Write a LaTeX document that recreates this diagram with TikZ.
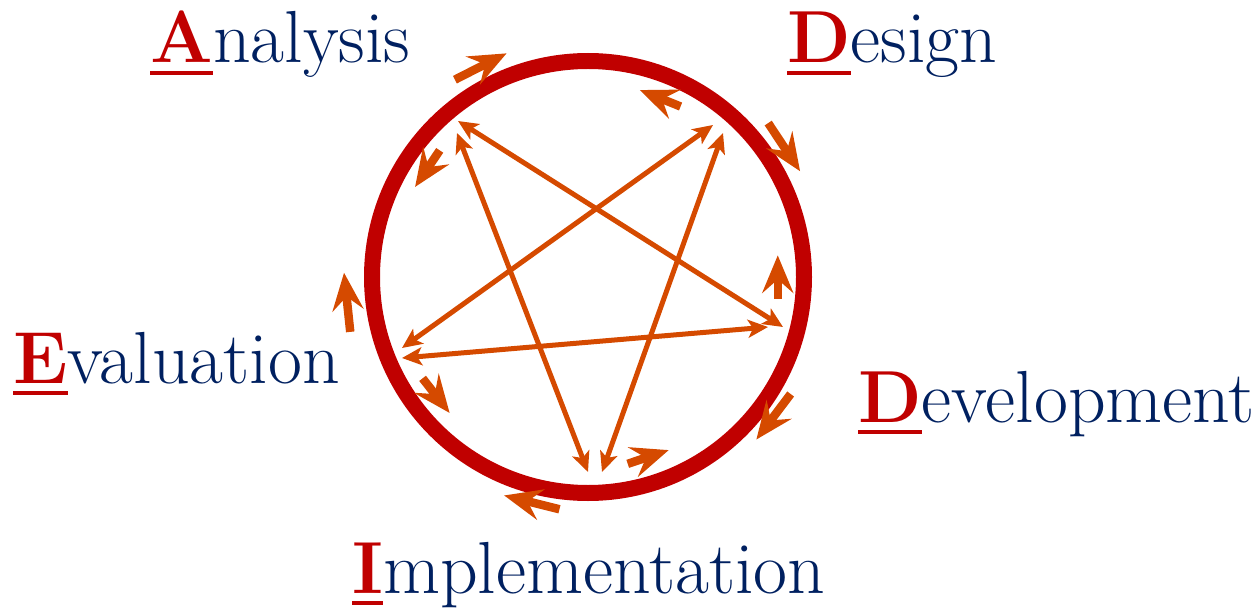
\documentclass[tikz,border=0pt]{standalone}
\usepackage{tikz}
\usetikzlibrary{arrows.meta}
\usepackage{xcolor}

\definecolor{adRed}{HTML}{C00000}
\definecolor{adBlue}{HTML}{002060}
\definecolor{adOrange}{HTML}{D54A00}

% red bold initial with a thick underline
\newcommand{\keyletter}[1]{\textcolor{adRed}{\setbox0=\hbox{\bfseries #1}\rlap{\rule[-6.8pt]{\wd0}{2.3pt}}\box0}}

\begin{document}
\begin{tikzpicture}[x=0.02cm, y=0.02cm, line join=round,
    phase/.style={anchor=base west, inner sep=0pt, text=adBlue,
        font=\fontsize{42}{44}\selectfont},
    link/.style={adOrange, line width=0.1cm,
        {Stealth[length=0.4cm, width=0.36cm, inset=0.1cm]}-{Stealth[length=0.4cm, width=0.36cm, inset=0.1cm]}},
    turn/.style={adOrange, line width=0.17cm,
        -{Stealth[length=0.75cm, width=0.62cm, inset=0.27cm]}}]

    % picture frame (origin at the centre of the ring)
    \useasboundingbox (-588, 277) rectangle (668, -331);

    % Ring
    \draw[adRed, line width=0.32cm] (0,0) circle (216);

    % Star tips (two per corner)
    \coordinate (TL1) at (-130, 156);
    \coordinate (TL2) at (-131, 144);
    \coordinate (TR1) at (125, 152);
    \coordinate (TR2) at (135, 144);
    \coordinate (R1)  at (195, -50);
    \coordinate (R2)  at (180, -50);
    \coordinate (L1)  at (-186, -71);
    \coordinate (L2)  at (-186, -81);
    \coordinate (B1)  at (0, -195);
    \coordinate (B2)  at (14, -195);

    % Star: every phase linked to every other one
    \draw[link] (TL1) -- (R1);
    \draw[link] (R2) -- (L2);
    \draw[link] (L1) -- (TR1);
    \draw[link] (TR2) -- (B2);
    \draw[link] (B1) -- (TL2);

    % Outer arrows, clockwise
    \foreach \a/\r in {117/238, 33.5/237, -37/234, 256/234, 186/244}
        \draw[turn] (\a+7:\r) -- (\a-7:\r);

    % Inner arrows, counter-clockwise
    \foreach \a/\r in {68/194, 146/195, 0/191, 288.5/191, 218/194}
        \draw[turn] (\a-6.5:\r) -- (\a+6.5:\r);

    % Phase labels
    \node[phase] (analysis) at (-438, 214) {\keyletter{A}nalysis};
    \node[phase] (design) at (199, 214) {\keyletter{D}esign};
    \node[phase] (development) at (270, -145) {\keyletter{D}evelopment};
    \node[phase] (implementation) at (-236, -316) {\keyletter{I}mplementation};
    \node[phase] (evaluation) at (-575, -106) {\keyletter{E}valuation};

\end{tikzpicture}
\end{document}
